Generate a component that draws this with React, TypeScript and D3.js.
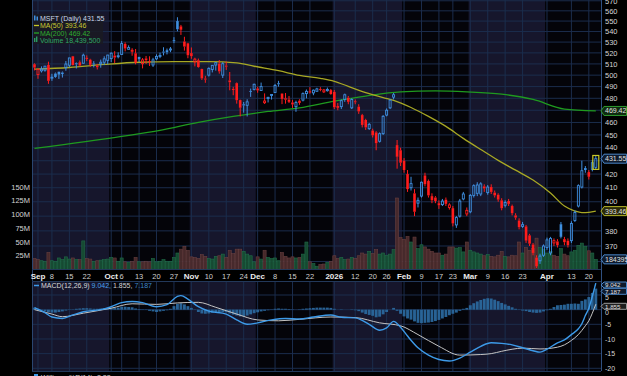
import React, { useEffect } from 'react';
import * as d3 from 'd3';

const FONT = "'Liberation Sans', Arial, Helvetica, sans-serif";

// ---- trading days (Aug 29 2025 .. Apr 22 2026) ----
const aug2025 = [29];
const sep2025 = [2,3,4,5,8,9,10,11,12,15,16,17,18,19,22,23,24,25,26,29,30];
const oct2025 = [1,2,3,6,7,8,9,10,13,14,15,16,17,20,21,22,23,24,27,28,29,30,31];
const nov2025 = [3,4,5,6,7,10,11,12,13,14,17,18,19,20,21,24,25,26,28];
const dec2025 = [1,2,3,4,5,8,9,10,11,12,15,16,17,18,19,22,23,24,26,29,30,31];
const jan2026 = [2,5,6,7,8,9,12,13,14,15,16,20,21,22,23,26,27,28,29,30];
const feb2026 = [2,3,4,5,6,9,10,11,12,13,17,18,19,20,23,24,25,26,27];
const mar2026 = [2,3,4,5,6,9,10,11,12,13,16,17,18,19,20,23,24,25,26,27,30,31];
const apr2026 = [1,2,6,7,8,9,10,13,14,15,16,17,20,21,22];

const mk = (y: string, m: string, days: number[]) => days.map(d => `${y}-${m}-${String(d).padStart(2, '0')}`);
const dates: string[] = [
  ...mk('2025','08',aug2025), ...mk('2025','09',sep2025), ...mk('2025','10',oct2025),
  ...mk('2025','11',nov2025), ...mk('2025','12',dec2025), ...mk('2026','01',jan2026),
  ...mk('2026','02',feb2026), ...mk('2026','03',mar2026), ...mk('2026','04',apr2026),
];

// ---- OHLC ----
const opens = [
  509.7,500.5,503.8,504.3,509.1,498.1,501.4,503.0,502.3,506.7,
  508.8,516.9,510.6,511.5,510.6,515.6,513.8,510.4,508.3,510.1,
  511.5,513.2,514.8,517.6,517.1,518.6,528.3,523.3,522.3,519.6,
  516.4,510.2,515.0,512.6,509.0,514.6,517.5,521.2,522.5,522.8,
  531.8,550.0,544.9,530.5,528.9,519.8,511.8,513.3,505.4,497.0,
  500.0,505.0,509.0,510.3,500.0,508.5,495.4,488.0,493.0,478.5,
  475.0,474.1,486.3,487.6,488.4,486.7,476.3,479.8,482.5,484.9,
  493.0,484.0,480.0,479.0,476.5,473.0,478.0,478.5,484.0,486.0,
  484.6,486.0,488.0,485.5,486.5,487.0,485.5,473.5,473.0,479.0,
  480.5,472.0,477.5,473.0,466.0,462.0,455.0,453.5,452.0,445.0,
  451.0,466.0,472.0,481.0,442.0,438.0,430.0,420.0,410.0,406.0,
  399.0,404.0,419.0,415.0,404.0,403.0,399.0,398.0,401.5,396.0,
  395.5,384.0,390.0,402.0,391.5,393.0,404.5,406.0,405.5,411.0,
  406.5,410.5,406.5,405.0,401.0,397.5,400.5,397.0,390.5,387.0,
  383.0,383.0,377.0,371.0,362.5,360.5,364.0,369.0,365.5,372.0,
  373.0,384.5,374.5,373.5,373.5,387.0,397.0,410.5,424.5,421.5,
  423.5,425.0,
];
const highs = [
  510.5,506.0,507.8,508.2,512.0,501.2,502.3,503.2,503.2,512.6,
  515.5,517.2,511.3,513.1,519.3,517.7,514.6,512.5,510.0,513.9,
  516.9,518.2,520.5,521.6,520.5,531.0,529.8,527.0,524.3,523.6,
  516.4,515.3,517.2,516.9,515.5,518.7,520.2,525.2,524.0,525.4,
  534.6,553.7,546.3,535.0,529.3,525.0,515.6,514.8,505.7,499.4,
  506.9,509.0,511.7,513.5,511.6,512.1,502.8,489.8,493.6,478.9,
  476.9,479.2,488.3,492.6,489.9,493.5,484.2,481.3,483.4,492.3,
  495.0,484.3,484.5,482.0,478.5,478.0,479.2,485.0,487.5,489.5,
  487.5,489.0,489.5,488.0,489.2,488.0,487.0,476.0,479.0,484.0,
  482.0,480.0,479.0,475.0,467.0,463.0,459.5,455.0,453.0,452.0,
  466.0,471.5,479.0,484.5,446.0,440.0,432.0,423.0,418.0,409.0,
  403.0,414.5,421.0,416.0,406.0,404.0,401.0,402.0,403.0,399.0,
  397.0,390.0,402.0,407.0,396.0,405.5,412.5,414.0,414.0,412.5,
  412.0,412.5,408.0,406.0,402.5,401.0,402.0,398.0,392.0,388.5,
  386.0,384.0,378.0,372.0,364.0,365.0,371.0,375.5,376.0,375.0,
  374.5,386.0,376.0,375.0,386.5,394.0,412.5,430.0,426.0,423.0,
  430.5,434.0,
];
const lows = [
  504.2,496.8,502.3,503.0,492.4,495.0,497.7,496.7,497.9,503.9,
  507.0,508.6,505.9,507.7,510.3,512.5,507.3,506.9,505.0,506.6,
  508.9,509.7,511.7,510.7,515.0,518.2,521.4,523.1,517.4,509.6,
  511.7,506.0,510.0,508.1,507.3,513.4,515.2,517.7,518.6,520.7,
  529.0,540.2,536.7,522.1,515.1,514.6,507.8,506.6,495.8,493.3,
  498.8,502.4,504.0,501.3,497.5,504.6,486.8,482.6,475.5,464.9,
  468.0,464.9,481.2,486.7,484.7,486.3,475.2,476.5,478.9,484.6,
  490.0,475.1,475.5,476.0,472.0,468.7,474.5,477.4,480.0,484.0,
  482.6,485.5,486.0,484.5,485.7,483.0,471.0,470.0,471.0,477.0,
  475.0,471.0,475.0,467.0,456.0,454.0,454.0,448.0,438.0,444.0,
  450.0,465.0,471.0,479.0,424.0,426.0,421.0,407.0,408.0,390.0,
  396.0,403.0,411.0,403.0,399.0,399.0,395.0,397.0,397.0,394.5,
  383.0,382.0,389.0,401.0,390.0,392.0,403.0,404.0,404.0,407.0,
  405.0,405.5,403.0,400.0,394.0,396.0,397.0,390.5,387.5,381.0,
  382.0,372.0,370.0,364.0,356.0,358.5,363.0,367.5,364.0,370.0,
  369.0,375.0,370.5,369.0,372.0,386.0,396.0,409.5,421.0,416.0,
  422.0,423.5,
];
const closes = [
  506.7,505.1,505.4,508.0,495.0,498.2,498.4,500.4,501.0,509.9,
  515.4,509.0,510.0,508.5,517.9,514.5,509.2,510.2,507.0,511.5,
  514.6,518.0,519.7,515.7,517.4,528.6,524.0,524.9,522.4,511.0,
  514.1,513.6,513.4,511.6,513.6,516.8,517.7,520.5,520.6,523.6,
  531.5,542.1,541.6,525.8,517.8,517.0,514.3,507.2,497.1,496.8,
  506.0,508.7,511.1,503.3,510.2,507.5,493.8,487.1,478.4,472.1,
  474.0,477.0,485.5,492.0,486.7,490.0,477.7,480.8,483.2,491.0,
  492.0,479.5,478.8,477.0,474.8,476.4,476.1,484.0,485.9,484.9,
  486.9,488.0,487.7,487.1,487.5,483.6,472.5,472.0,478.0,483.0,
  477.0,479.0,477.0,469.0,458.0,456.0,458.5,449.7,443.5,451.0,
  465.0,470.0,478.5,483.0,433.0,428.5,423.0,409.0,413.0,393.0,
  401.0,414.0,412.5,404.5,401.0,400.5,397.5,400.5,398.5,397.8,
  385.0,389.0,400.5,405.5,394.0,404.5,411.5,412.0,412.8,409.5,
  410.5,407.0,404.5,401.5,395.5,399.5,398.5,392.0,389.0,382.5,
  384.2,373.5,371.5,365.5,357.0,363.5,370.0,374.0,375.0,373.5,
  370.5,376.0,372.5,370.5,385.0,392.5,411.5,422.5,423.0,418.0,
  428.5,431.55,
];
// volume, millions
const volumes = [
  20,18,16,15,31,16,15,21,18,23,
  19,21,18,18,52,20,19,15,16,17,
  18,19,22,21,15,21,14,13,15,22,
  14,14,15,14,20,14,15,18,15,15,
  22,30,37,42,35,23,22,20,27,24,
  20,19,24,25,28,22,35,29,37,37,
  33,28,25,14,23,19,35,22,20,21,
  16,31,24,21,23,21,22,28,50,14,
  11,6,9,10,13,15,25,20,22,18,
  19,22,20,25,30,28,33,29,36,28,
  30,26,28,36,130,58,55,60,50,59,
  38,45,41,37,33,30,30,26,28,41,
  41,39,40,32,50,35,32,30,28,25,
  27,24,23,26,33,24,23,26,25,50,
  30,40,35,38,57,40,36,30,33,26,
  24,38,28,25,32,35,44,48,42,34,
  30,18.44,
];

// moving averages read at sample days: [dayIndex, value]
const ma50Points: [number, number][] = [
  [0,505.3],[10,506.8],[20,509.5],[30,511.5],[40,512],[50,512],[58,511],[63,507.9],
  [70,503.9],[76,499.8],[82,497.2],[86,494.6],[90,490.2],[95,484.9],[100,480.6],[103,478.3],
  [108,472.3],[113,464.9],[118,456.8],[123,447.3],[128,438.6],[133,430.3],[138,422.9],
  [143,415.6],[148,406.2],[152,397.0],[155,393.5],[157,392.4],[159,392.6],[161,393.46],
];
const ma200Points: [number, number][] = [
  [0,439.4],[25,448.8],[36,453.6],[47,460.1],[57,465.0],[67,469.0],[76,472.0],[86,477.6],
  [95,481.9],[105,485.5],[115,486.3],[124,485.5],[134,483.5],[143,479.0],[152,471.0],[161,469.42],
];

// MACD(12,26,9)
const macdPoints: [number, number][] = [
  [0,0.7],[3,-1.0],[5,-2.5],[8,-3.0],[11,-1.8],[14,-0.7],[19,0.0],[22,1.0],[25,2.4],[28,2.8],
  [31,2.4],[35,1.0],[38,1.7],[41,4.5],[42,4.8],[44,3.6],[47,1.0],[50,-0.5],[55,-1.5],[58,-3.5],
  [61,-5.0],[64,-4.5],[68,-3.5],[72,-3.0],[76,-3.2],[80,-2.5],[85,-1.8],[88,-2.6],[92,-2.8],[96,-5.0],
  [99,-7.0],[101,-6.2],[103,-4.0],[105,-6.0],[107,-9.0],[110,-13.0],[113,-15.5],[116,-17.0],[119,-17.5],[122,-16.5],
  [125,-14.5],[128,-12.5],[131,-11.3],[134,-11.5],[137,-12.0],[140,-13.0],[143,-14.0],[145,-14.5],[147,-13.5],[150,-11.3],
  [152,-10.3],[154,-8.5],[156,-6.5],[157,-4.8],[158,-2.0],[159,0.5],[160,4.5],[161,9.042],
];
const signalPoints: [number, number][] = [
  [0,0],[5,-1.5],[8,-2.4],[14,-1.2],[22,0.5],[28,2.0],[35,1.8],[41,2.3],[47,2.5],[52,0.8],
  [58,-1.5],[64,-3.5],[70,-3.8],[76,-3.3],[85,-2.5],[92,-2.7],[99,-4.5],[105,-5.5],[110,-8.5],
  [116,-12.5],[122,-15.5],[128,-15.3],[131,-15.0],[134,-14.2],[137,-13.5],[140,-13.1],[145,-13.4],
  [150,-12.8],[152,-12.0],[154,-10.5],[156,-8.5],[158,-5.5],[159,-3.8],[160,-1.2],[161,1.855],
];
const histogram = [
  0.7,0.3,-0.3,-0.6,-0.9,-1.0,-1.0,-0.8,-0.6,-0.3,
  -0.1,0.1,0.3,0.4,0.5,0.5,0.4,0.3,0.3,0.4,
  0.5,0.6,0.6,0.6,0.7,1.0,1.0,0.9,0.8,0.4,
  0.2,0.1,-0.1,-0.4,-0.6,-0.8,-0.6,-0.4,-0.2,0.3,
  1.2,2.0,2.2,1.8,1.2,0.6,-0.1,-0.8,-1.3,-1.4,
  -1.3,-1.1,-0.9,-0.9,-0.8,-0.9,-1.3,-1.7,-2.0,-2.3,
  -2.3,-2.0,-1.6,-1.2,-0.9,-0.6,-0.4,-0.2,0.1,0.3,
  0.4,0.3,0.3,0.2,0.1,0.0,0.1,0.3,0.4,0.5,
  0.6,0.7,0.7,0.7,0.7,0.6,0.3,0.0,-0.1,0.0,
  0.0,-0.1,-0.2,-0.5,-1.0,-1.5,-1.8,-2.1,-2.6,-2.4,
  -1.6,-0.8,0.0,0.6,-0.4,-1.4,-2.3,-3.0,-3.4,-4.0,
  -4.5,-4.6,-4.5,-4.4,-4.2,-3.9,-3.5,-3.0,-2.5,-1.9,
  -1.4,-1.0,-0.4,0.3,0.6,1.5,2.2,2.8,3.3,3.7,
  3.9,3.8,3.4,2.9,2.3,1.8,1.3,0.8,0.3,-0.1,
  -0.3,-0.5,-0.8,-1.0,-1.1,-1.0,-0.6,-0.2,0.3,0.9,
  1.5,1.6,1.7,2.0,2.0,2.1,2.0,3.0,3.5,4.3,
  5.7,7.187,
];

// axis ticks
const tickDates = [
  '2025-09-02','2025-09-08','2025-09-15','2025-09-22','2025-10-01','2025-10-06','2025-10-13','2025-10-20','2025-10-27',
  '2025-11-03','2025-11-10','2025-11-17','2025-11-24','2025-12-01','2025-12-08','2025-12-15','2025-12-22',
  '2026-01-02','2026-01-12','2026-01-20','2026-01-26','2026-02-02','2026-02-09','2026-02-17','2026-02-23',
  '2026-03-02','2026-03-09','2026-03-16','2026-03-23','2026-04-01','2026-04-13','2026-04-20',
];
const tickLabels = [
  'Sep','8','15','22','Oct','6','13','20','27','Nov','10','17','24','Dec','8','15','22',
  '2026','12','20','26','Feb','9','17','23','Mar','9','16','23','Apr','13','20',
];
const priceTicks = [360,370,380,390,400,410,420,430,440,450,460,470,480,490,500,510,520,530,540,550,560,570];
const volumeTicks = [25,50,75,100,125,150];
const macdTicks = [5,0,-5,-10,-15,-20];

// last values shown in the tags
const lastClose = 431.55;
const lastMa50 = 393.46;
const lastMa200 = 469.42;
const lastVolume = 18.4395;
const lastMacd = 9.042;
const lastSignal = 1.855;
const lastHist = 7.187;

// layout
const W = 627, H = 376;
const L = 32, R = 601;
const P_TOP = 0, P_BOT = 269;
const M_TOP = 281, M_BOT = 371;

export default function App() {
  useEffect(() => {
    document.body.style.margin = '0';
    document.body.style.background = '#000';
  }, []);

  const n = dates.length;
  const x = d3.scaleLinear().domain([0, n - 1]).range([34.5, 595.8]);
  const step = x(1) - x(0);
  const yP = d3.scaleLog().domain([355.3, 570.8]).range([P_BOT, P_TOP]);
  const yV = d3.scaleLinear().domain([0, 150]).range([269.5, 187]);
  const yM = d3.scaleLinear().domain([-20, 5]).range([368.3, 295]);

  const tickIdx = tickDates.map(d => dates.indexOf(d));
  const isMonth = (s: string) => !/^\d{1,2}$/.test(s);
  const monthStarts = tickIdx.filter((_, k) => isMonth(tickLabels[k]));
  const bandEdges = [L, ...monthStarts.slice(1).map(i => x(i) - step / 2), R];
  const bands = bandEdges.slice(0, -1).map((x0, k) => ({ x0, x1: bandEdges[k + 1], navy: k % 2 === 0 }));

  const lineP = d3.line<[number, number]>().x(d => x(d[0])).y(d => yP(d[1])).curve(d3.curveMonotoneX);
  const lineM = d3.line<[number, number]>().x(d => x(d[0])).y(d => yM(d[1])).curve(d3.curveMonotoneX);

  const BLUE = '#3f8fe0';
  const RED = '#ff1c1c';
  const grid = '#1b2d4d';

  const tagYs = [yP(lastClose), yP(lastMa50), yP(lastMa200), yV(lastVolume)];
  const visiblePriceTicks = priceTicks.filter(t => tagYs.every(ty => Math.abs(yP(t) - ty) > 7));

  // MACD tag positions (stacked like the reference) and tick label nudges to keep them clear
  const tagMacdY = 285;
  const tagHistY = 291.3;
  const tagSigY = 306.3;
  const macdLabelY = (t: number) => (t === 5 ? 300 : t === 0 ? 315.2 : yM(t) + 2.6);

  const candles = closes.map((c, i) => {
    const o = opens[i], h = highs[i], l = lows[i];
    const prev = i > 0 ? closes[i - 1] : o;
    const up = c >= prev;
    const col = up ? BLUE : RED;
    const hollow = c > o;
    const cx = x(i);
    const top = yP(Math.max(o, c));
    const bot = yP(Math.min(o, c));
    const bh = Math.max(1, bot - top);
    return (
      <g key={i}>
        <line x1={cx} x2={cx} y1={yP(h)} y2={top} stroke={col} strokeWidth={1} />
        <line x1={cx} x2={cx} y1={top + bh} y2={yP(l)} stroke={col} strokeWidth={1} />
        {hollow ? (
          <rect x={cx - 1} y={top} width={2} height={bh} fill="none" stroke={col} strokeWidth={0.9} />
        ) : (
          <rect x={cx - 1.3} y={top} width={2.6} height={bh} fill={col} />
        )}
      </g>
    );
  });

  const volBars = volumes.map((v, i) => {
    const prev = i > 0 ? closes[i - 1] : opens[i];
    const up = closes[i] >= prev;
    return (
      <rect key={i} x={x(i) - step / 2 + 0.2} y={yV(v)} width={step - 0.4} height={yV(0) - yV(v)}
        fill={up ? '#174d33' : '#4a2b2c'} stroke={up ? '#22704a' : '#6a4142'} strokeWidth={0.6} opacity={0.95} />
    );
  });

  const histBars = histogram.map((v, i) => (
    <rect key={i} x={x(i) - step / 2 + 0.3} y={Math.min(yM(0), yM(v))} width={step - 0.6}
      height={Math.abs(yM(v) - yM(0))} fill="#2a679c" opacity={0.95} />
  ));

  const Tag = ({ y, text, stroke, fill, color, h = 9, fs = 7 }: any) => (
    <g>
      <path d={`M${R},${y} L${R + 3},${y - h / 2} L${W - 0.5},${y - h / 2} L${W - 0.5},${y + h / 2} L${R + 3},${y + h / 2} Z`}
        fill={fill} stroke={stroke} strokeWidth={1} />
      <text x={R + 4} y={y + fs * 0.36} fontSize={fs} fill={color} fontFamily={FONT}>{text}</text>
    </g>
  );

  const last = n - 1;

  return (
    <svg width={W} height={H} style={{ position: 'absolute', left: 0, top: 0, display: 'block', background: '#000' }}>
      <defs>
        <clipPath id="pclip"><rect x={L} y={P_TOP} width={R - L} height={P_BOT - P_TOP} /></clipPath>
        <clipPath id="mclip"><rect x={L} y={M_TOP} width={R - L} height={M_BOT - M_TOP} /></clipPath>
      </defs>
      <rect x={0} y={0} width={W} height={H} fill="#000" />

      {/* month bands */}
      {bands.map((b, k) => (
        <g key={k}>
          <rect x={b.x0} y={P_TOP} width={b.x1 - b.x0} height={P_BOT - P_TOP} fill={b.navy ? '#16162c' : '#040409'} />
          <rect x={b.x0} y={M_TOP} width={b.x1 - b.x0} height={M_BOT - M_TOP} fill={b.navy ? '#16162c' : '#040409'} />
        </g>
      ))}

      {/* grid */}
      {priceTicks.map(t => (
        <line key={t} x1={L} x2={R} y1={yP(t)} y2={yP(t)} stroke={grid} strokeWidth={1} />
      ))}
      {macdTicks.map(t => (
        <line key={t} x1={L} x2={R} y1={yM(t)} y2={yM(t)} stroke={grid} strokeWidth={1} />
      ))}
      {tickIdx.map((i, k) => (
        <g key={k}>
          <line x1={x(i)} x2={x(i)} y1={P_TOP} y2={P_BOT} stroke={grid} strokeWidth={1} />
          <line x1={x(i)} x2={x(i)} y1={M_TOP} y2={M_BOT} stroke={grid} strokeWidth={1} />
        </g>
      ))}

      {/* price pane */}
      <g clipPath="url(#pclip)">
        {volBars}
        <path d={lineP(ma200Points) || ''} fill="none" stroke="#1f9a1f" strokeWidth={1.3} />
        <path d={lineP(ma50Points) || ''} fill="none" stroke="#a8a824" strokeWidth={1.3} />
        {candles}
        <rect x={x(last) - 3} y={yP(highs[last])} width={6} height={yP(lows[last]) - yP(highs[last])}
          fill="none" stroke="#c8c828" strokeWidth={1.2} />
      </g>

      {/* MACD pane */}
      <g clipPath="url(#mclip)">
        {histBars}
        <path d={lineM(signalPoints) || ''} fill="none" stroke="#c4c4c4" strokeWidth={1} />
        <path d={lineM(macdPoints) || ''} fill="none" stroke="#3d9ae8" strokeWidth={1.4} />
      </g>

      {/* borders */}
      <line x1={L + 0.5} x2={L + 0.5} y1={0} y2={M_BOT} stroke="#2a4670" strokeWidth={1} />
      <line x1={R + 0.5} x2={R + 0.5} y1={0} y2={M_BOT} stroke="#2f5080" strokeWidth={1} />
      <line x1={L} x2={R} y1={P_BOT + 0.5} y2={P_BOT + 0.5} stroke="#22385a" strokeWidth={1} />
      <line x1={L} x2={R} y1={M_TOP + 0.5} y2={M_TOP + 0.5} stroke="#22385a" strokeWidth={1} />
      <line x1={L} x2={R} y1={M_BOT + 0.5} y2={M_BOT + 0.5} stroke="#22385a" strokeWidth={1} />

      {/* right price axis */}
      {visiblePriceTicks.map(t => (
        <text key={t} x={R + 4} y={yP(t) + 2.7} fontSize={7.5} fill="#d4d4d4" fontFamily={FONT}>{t}</text>
      ))}
      {/* left volume axis */}
      {volumeTicks.map(t => (
        <text key={t} x={L - 2} y={yV(t) + 2.7} fontSize={7.5} fill="#d4d4d4" fontFamily={FONT} textAnchor="end">{`${t}M`}</text>
      ))}
      {/* MACD axis */}
      {macdTicks.map(t => (
        <text key={t} x={R + 4} y={macdLabelY(t)} fontSize={7} fill="#d4d4d4" fontFamily={FONT}>{t}</text>
      ))}

      {/* x axis labels */}
      {tickIdx.map((i, k) => {
        const lab = tickLabels[k];
        const m = isMonth(lab);
        return (
          <text key={k} x={x(i)} y={278.5} fontSize={m ? 8 : 7.5} fontWeight={m ? 'bold' : 'normal'}
            fill={m ? '#ececec' : '#cfcfcf'} textAnchor="middle" fontFamily={FONT}>{lab}</text>
        );
      })}

      {/* value tags */}
      <Tag y={yP(lastMa200)} text="469.42" stroke="#2f9a2f" fill="#0f2a10" color="#e0e0e0" />
      <Tag y={yP(lastClose)} text="431.55" stroke="#4a86c8" fill="#0e1a2c" color="#e0e0e0" />
      <Tag y={yP(lastMa50)} text="393.46" stroke="#b4b428" fill="#2a2a08" color="#e0e0e0" />
      <Tag y={yV(lastVolume)} text="18439500" stroke="#4a86c8" fill="#0e1a2c" color="#e0e0e0" />
      <Tag y={tagMacdY} text={String(lastMacd)} stroke="#4a86c8" fill="#0e1a2c" color="#e0e0e0" h={6} fs={6.2} />
      <Tag y={tagHistY} text={String(lastHist)} stroke="#4a86c8" fill="#0e1a2c" color="#e0e0e0" h={6} fs={6.2} />
      <Tag y={tagSigY} text={String(lastSignal)} stroke="#9a9a9a" fill="#1e1e1e" color="#e0e0e0" h={6} fs={6.2} />

      {/* legend */}
      <rect x={33} y={14} width={70} height={30} fill="#1a1a22" opacity={0.85} />
      <g fontFamily={FONT} fontSize={7}>
        <rect x={34} y={15.5} width={1.5} height={5} fill={BLUE} />
        <rect x={36.5} y={16.5} width={1.5} height={4} fill={BLUE} />
        <text x={40} y={20.5} fill="#c9d6ea">MSFT (Daily) 431.55</text>
        <line x1={34} x2={39} y1={25.5} y2={25.5} stroke="#c8c828" strokeWidth={1.3} />
        <text x={40} y={28} fill="#c8c832">MA(50) 393.46</text>
        <line x1={34} x2={39} y1={33} y2={33} stroke="#26a826" strokeWidth={1.3} />
        <text x={40} y={35.5} fill="#2eae2e">MA(200) 469.42</text>
        <rect x={34} y={38} width={1.4} height={4} fill="#2a9a60" />
        <rect x={36} y={36.5} width={1.4} height={5.5} fill="#2a9a60" />
        <text x={40} y={42.5} fill="#2fa868">Volume 18,439,500</text>
      </g>

      {/* MACD legend */}
      <g fontFamily={FONT} fontSize={7}>
        <line x1={34} x2={39} y1={285.5} y2={285.5} stroke="#3d9ae8" strokeWidth={1.5} />
        <text x={41} y={288}>
          <tspan fill="#d8d8d8">MACD(12,26,9) </tspan>
          <tspan fill="#4aa2ea">9.042, </tspan>
          <tspan fill="#cfcfcf">1.855, </tspan>
          <tspan fill="#3d86c8">7.187</tspan>
        </text>
      </g>

      {/* Williams %R legend (cut off at bottom, as in the reference) */}
      <g fontFamily={FONT} fontSize={7}>
        <rect x={34} y={374} width={4} height={3} fill="#3d9ae8" />
        <text x={41} y={379.5} fill="#d0d0d0">Williams %R(14) -2.38</text>
      </g>
    </svg>
  );
}
